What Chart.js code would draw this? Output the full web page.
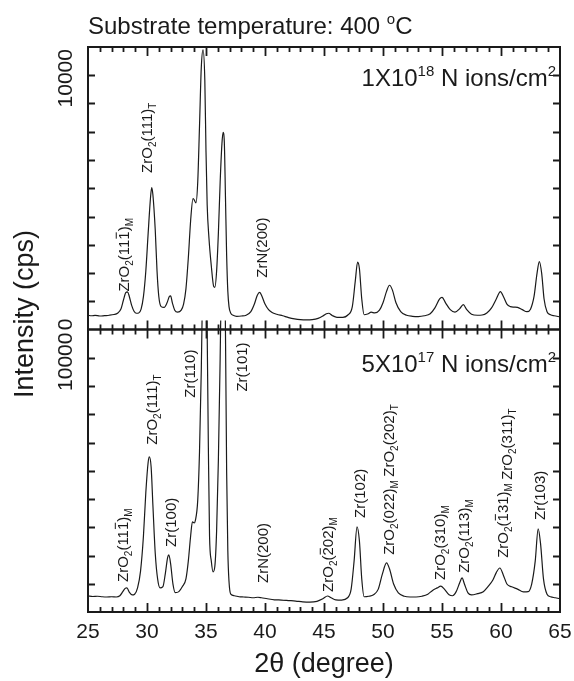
<!DOCTYPE html>
<html lang="en">
<head>
<meta charset="UTF-8">
<title>XRD - Substrate temperature 400 C</title>
<script src="https://cdn.jsdelivr.net/npm/chart.js"></script>
<style>
    body { margin: 0; background: #fff; }
    #wrap { width: 574px; height: 681px; }
</style>
</head>
<body>
<div id="wrap"><canvas id="xrd" width="574" height="681"></canvas></div>
<script>
// 2theta (degree) / intensity (cps)
const topTheta = [25.0, 25.3, 25.6, 26.0, 26.4, 26.8, 27.2, 27.5, 27.8, 28.0, 28.2, 28.35, 28.5, 28.7, 28.9, 29.1, 29.3, 29.5, 29.7, 29.9,
    30.1, 30.3, 30.4, 30.5, 30.7, 30.85, 31.0, 31.2, 31.45, 31.7, 31.9, 32.0, 32.15, 32.35, 32.6, 32.9, 33.1, 33.3, 33.5, 33.7,
    33.9, 34.0, 34.15, 34.3, 34.45, 34.6, 34.75, 34.9, 35.0, 35.1, 35.25, 35.45, 35.65, 35.75, 35.9, 36.05, 36.2, 36.35, 36.45, 36.55,
    36.65, 36.75, 36.85, 36.95, 37.1, 37.3, 37.6, 38.0, 38.4, 38.8, 39.1, 39.35, 39.55, 39.75, 40.0, 40.3, 40.6, 41.0, 41.5, 42.0,
    42.5, 43.0, 43.5, 44.0, 44.5, 44.9, 45.2, 45.4, 45.7, 46.1, 46.6, 47.0, 47.4, 47.65, 47.85, 48.0, 48.2, 48.4, 48.7, 49.0,
    49.3, 49.7, 50.0, 50.3, 50.55, 50.8, 51.1, 51.5, 52.0, 52.5, 53.0, 53.5, 54.0, 54.4, 54.8, 55.0, 55.3, 55.7, 56.1, 56.5,
    56.8, 57.1, 57.5, 58.0, 58.4, 58.8, 59.2, 59.6, 59.95, 60.2, 60.5, 60.8, 61.1, 61.4, 61.8, 62.2, 62.5, 62.8, 63.05, 63.25,
    63.45, 63.65, 63.9, 64.2, 64.5, 65.0];
const topCounts = [560, 540, 555, 530, 545, 560, 590, 640, 820, 1150, 1450, 1480, 1300, 950, 720, 640, 650, 800, 1300, 2300,
    3800, 5200, 5580, 5300, 3900, 2300, 1300, 900, 870, 1050, 1300, 1320, 1050, 760, 680, 760, 1000, 1600, 2800, 4300,
    5150, 5100, 4980, 5800, 8000, 10300, 11000, 9800, 7000, 4900, 3600, 2500, 1700, 1660, 2300, 3800, 5800, 7300, 7750, 7400,
    5200, 2900, 1500, 900, 640, 560, 520, 530, 560, 700, 1000, 1350, 1460, 1300, 1000, 780, 670, 600, 540, 470,
    420, 390, 380, 390, 440, 530, 620, 640, 550, 480, 480, 560, 900, 1900, 2650, 2400, 1200, 580, 610, 680,
    650, 760, 1050, 1500, 1740, 1550, 1050, 700, 560, 520, 510, 540, 620, 850, 1200, 1260, 1050, 780, 680, 820,
    980, 780, 600, 560, 570, 650, 850, 1200, 1490, 1300, 1000, 900, 880, 870, 780, 700, 800, 1300, 2200, 2670,
    2200, 1200, 700, 580, 540, 500];

const botTheta = [25.0, 25.4, 25.8, 26.2, 26.6, 27.0, 27.4, 27.7, 27.95, 28.15, 28.3, 28.5, 28.75, 28.95, 29.2, 29.45, 29.7, 29.9, 30.1, 30.2,
    30.35, 30.5, 30.7, 30.9, 31.1, 31.35, 31.55, 31.75, 31.85, 32.0, 32.2, 32.4, 32.7, 33.0, 33.3, 33.5, 33.7, 33.85, 34.0, 34.1,
    34.3, 34.45, 34.6, 34.75, 34.9, 35.0, 35.1, 35.2, 35.3, 35.45, 35.6, 35.75, 35.9, 36.05, 36.2, 36.35, 36.5, 36.65, 36.75, 36.85,
    36.95, 37.1, 37.4, 37.8, 38.2, 38.6, 39.0, 39.4, 39.7, 40.2, 40.8, 41.4, 42.0, 42.6, 43.2, 43.8, 44.4, 44.9, 45.3, 45.6,
    46.0, 46.5, 47.0, 47.3, 47.55, 47.8, 48.0, 48.2, 48.4, 48.8, 49.2, 49.6, 49.95, 50.3, 50.55, 50.9, 51.3, 51.8, 52.3, 52.8,
    53.3, 53.8, 54.2, 54.6, 54.9, 55.2, 55.6, 55.9, 56.2, 56.5, 56.7, 56.9, 57.2, 57.5, 58.0, 58.5, 58.9, 59.3, 59.6, 59.9,
    60.2, 60.5, 60.9, 61.4, 61.9, 62.3, 62.6, 62.9, 63.15, 63.35, 63.6, 63.9, 64.2, 64.6, 65.0];
const botCounts = [630, 610, 620, 600, 590, 600, 590, 640, 800, 930, 950, 780, 670, 700, 950, 1600, 3000, 4700, 5900, 6100,
    5700, 4200, 2300, 1300, 950, 1000, 1500, 2150, 2250, 1900, 1100, 760, 800, 1000, 1300, 2000, 3000, 3550, 3500, 3600,
    4400, 6300, 9500, 14000, 17000, 16000, 11000, 6500, 3000, 2000, 1580, 1800, 3200, 6000, 10000, 14500, 16000, 11000, 5500, 2400,
    1200, 700, 640, 600, 590, 580, 560, 580, 560, 520, 480, 470, 450, 430, 400, 390, 420, 520, 630, 560,
    480, 470, 560, 900, 2000, 3350, 2800, 1300, 600, 620, 680, 900, 1500, 1930, 1700, 1100, 750, 620, 590, 590,
    620, 700, 850, 950, 1020, 900, 680, 640, 800, 1150, 1340, 1100, 750, 670, 720, 800, 1000, 1250, 1550, 1730,
    1450, 1100, 990, 900, 790, 800, 1100, 2000, 3270, 2700, 1300, 700, 600, 560, 520];

const xTickLabels = ['25', '30', '35', '40', '45', '50', '55', '60', '65'];
const yTickLabel = '10000';
const doseLabels = ['1X10^{18} N ions/cm^{2}', '5X10^{17} N ions/cm^{2}'];

// peak labels: 2theta of the text baseline, intensity where the text starts
const topPeaks = [
    { t: 'ZrO_2(11~1)_M', x: 28.47, y: 1490 },
    { t: 'ZrO_2(111)_T', x: 30.42, y: 6160 },
    { t: 'ZrN(200)', x: 40.17, y: 2040 }
];
const botPeaks = [
    { t: 'ZrO_2(11~1)_M', x: 28.39, y: 1180 },
    { t: 'ZrO_2(111)_T', x: 30.85, y: 6580 },
    { t: 'Zr(100)', x: 32.46, y: 2560 },
    { t: 'Zr(110)', x: 34.07, y: 8430 },
    { t: 'Zr(101)', x: 38.47, y: 8670 },
    { t: 'ZrN(200)', x: 40.25, y: 1140 },
    { t: 'ZrO_2(~202)_M', x: 45.76, y: 790 },
    { t: 'Zr(102)', x: 48.47, y: 3700 },
    { t: 'ZrO_2(022)_M', x: 50.93, y: 2250 },
    { t: 'ZrO_2(202)_T', x: 50.93, y: 5320 },
    { t: 'ZrO_2(310)_M', x: 55.25, y: 1260 },
    { t: 'ZrO_2(113)_M', x: 57.29, y: 1540 },
    { t: 'ZrO_2(~131)_M', x: 60.6, y: 2130 },
    { t: 'ZrO_2(311)_T', x: 60.93, y: 5200 },
    { t: 'Zr(103)', x: 63.73, y: 3620 }
];

const yStep = 10000 / 9;      // major 10000, 8 minor ticks in between
const panelMax = 10 * yStep;
const FONT = '"Liberation Sans", Arial, Helvetica, sans-serif';
const INK = '#1a1a1a';

// tiny markup: _x / _{..} subscript, ^x / ^{..} superscript, ~x overbar
function tokens(str) {
    const out = [];
    const re = /\^\{([^}]*)\}|_\{([^}]*)\}|\^(.)|_(.)|~(.)|([^^_~]+)/g;
    let m;
    while ((m = re.exec(str))) {
        if (m[1] !== undefined || m[3] !== undefined) out.push({ s: m[1] ?? m[3], k: 'sup' });
        else if (m[2] !== undefined || m[4] !== undefined) out.push({ s: m[2] ?? m[4], k: 'sub' });
        else if (m[5] !== undefined) out.push({ s: m[5], k: 'bar' });
        else out.push({ s: m[6], k: 'n' });
    }
    return out;
}

function richText(ctx, str, x, y, size, align, rotate) {
    const toks = tokens(str);
    const small = Math.round(size * 0.64);
    const fontOf = k => ((k === 'sub' || k === 'sup') ? small : size) + 'px ' + FONT;
    let w = 0;
    toks.forEach(t => { ctx.font = fontOf(t.k); t.w = ctx.measureText(t.s).width; w += t.w; });
    ctx.save();
    ctx.translate(x, y);
    if (rotate) ctx.rotate(-Math.PI / 2);
    ctx.textAlign = 'left';
    ctx.textBaseline = 'alphabetic';
    let cx = align === 'right' ? -w : align === 'center' ? -w / 2 : 0;
    toks.forEach(t => {
        ctx.font = fontOf(t.k);
        const dy = t.k === 'sub' ? size * 0.24 : t.k === 'sup' ? -size * 0.42 : 0;
        ctx.fillText(t.s, cx, dy);
        if (t.k === 'bar') ctx.fillRect(cx + 1, -size * 0.88, t.w - 2, 1);
        cx += t.w;
    });
    ctx.restore();
}

const framePlugin = {
    id: 'framePlugin',
    beforeDatasetDraw(chart, args) {
        const { ctx, chartArea: a, scales } = chart;
        const mid = scales.yTop.getPixelForValue(0);
        ctx.save();
        ctx.beginPath();
        if (args.index === 0) ctx.rect(a.left, a.top, a.width, mid - a.top);
        else ctx.rect(a.left, mid - 9, a.width, a.bottom - mid + 9);
        ctx.clip();
    },
    afterDatasetDraw(chart) {
        chart.ctx.restore();
    },
    afterDraw(chart) {
        const { ctx, chartArea: a, scales } = chart;
        const x = scales.x, yT = scales.yTop, yB = scales.yBot;
        const mid = yT.getPixelForValue(0);
        ctx.save();
        ctx.strokeStyle = INK;
        ctx.fillStyle = INK;

        // frames
        ctx.lineWidth = 2;
        ctx.strokeRect(a.left, a.top, a.width, mid - a.top);
        ctx.strokeRect(a.left, mid, a.width, a.bottom - mid);

        // x ticks: inward on bottom & top, crossing the panel join
        ctx.lineWidth = 1.8;
        ctx.beginPath();
        for (let v = 26; v < 65; v++) {
            const px = Math.round(x.getPixelForValue(v)) + 0.5;
            const len = v % 5 === 0 ? 9 : 5;
            ctx.moveTo(px, a.bottom); ctx.lineTo(px, a.bottom - len);
            ctx.moveTo(px, mid - len); ctx.lineTo(px, mid + len);
            ctx.moveTo(px, a.top); ctx.lineTo(px, a.top + len);
        }
        // y ticks, left and right, both panels
        for (let k = 1; k < 10; k++) {
            [yT.getPixelForValue(k * yStep), yB.getPixelForValue(k * yStep)].forEach(py => {
                py = Math.round(py) + 0.5;
                ctx.moveTo(a.left, py); ctx.lineTo(a.left + 7, py);
                ctx.moveTo(a.right - 7, py); ctx.lineTo(a.right, py);
            });
        }
        ctx.stroke();

        // x tick labels
        ctx.font = '21px ' + FONT;
        ctx.textAlign = 'center';
        ctx.textBaseline = 'alphabetic';
        xTickLabels.forEach(s => ctx.fillText(s, x.getPixelForValue(Number(s)), a.bottom + 26));

        // y tick labels (rotated)
        const rotLabel = (s, px, py) => {
            ctx.save();
            ctx.translate(px, py);
            ctx.rotate(-Math.PI / 2);
            ctx.fillText(s, 0, 0);
            ctx.restore();
        };
        rotLabel(yTickLabel, 72, yT.getPixelForValue(10000) + 3);
        rotLabel('0', 72, mid - 5);
        rotLabel(yTickLabel, 72, yB.getPixelForValue(10000) + 4);

        // axis titles
        ctx.font = '27px ' + FONT;
        rotLabel('Intensity (cps)', 33, 314);
        ctx.fillText('2\u03b8 (degree)', (a.left + a.right) / 2, 672);

        // headline and dose labels
        richText(ctx, 'Substrate temperature: 400 ^{o}C', 88, 34, 24, 'left', false);
        richText(ctx, doseLabels[0], a.right - 4, 86, 24, 'right', false);
        richText(ctx, doseLabels[1], a.right - 4, 372, 24, 'right', false);

        // peak labels
        topPeaks.forEach(p => richText(ctx, p.t, x.getPixelForValue(p.x), yT.getPixelForValue(p.y), 15, 'left', true));
        botPeaks.forEach(p => richText(ctx, p.t, x.getPixelForValue(p.x), yB.getPixelForValue(p.y), 15, 'left', true));
        ctx.restore();
    }
};

const toPoints = (xs, ys) => xs.map((v, i) => ({ x: v, y: ys[i] }));

new Chart(document.getElementById('xrd'), {
    type: 'line',
    data: {
        datasets: [
            { label: '1X10^18', data: toPoints(topTheta, topCounts), yAxisID: 'yTop' },
            { label: '5X10^17', data: toPoints(botTheta, botCounts), yAxisID: 'yBot' }
        ]
    },
    options: {
        responsive: false,
        animation: false,
        devicePixelRatio: 1,
        layout: { padding: { left: 88, right: 14, top: 47, bottom: 69 } },
        elements: {
            point: { radius: 0 },
            line: { borderColor: INK, borderWidth: 1.2, cubicInterpolationMode: 'monotone', fill: false }
        },
        scales: {
            x: { type: 'linear', min: 25, max: 65, display: false },
            yTop: { type: 'linear', min: -panelMax, max: panelMax, display: false },
            yBot: { type: 'linear', min: 0, max: 2 * panelMax, display: false }
        },
        plugins: {
            legend: { display: false },
            tooltip: { enabled: false }
        }
    },
    plugins: [framePlugin]
});
</script>
</body>
</html>
